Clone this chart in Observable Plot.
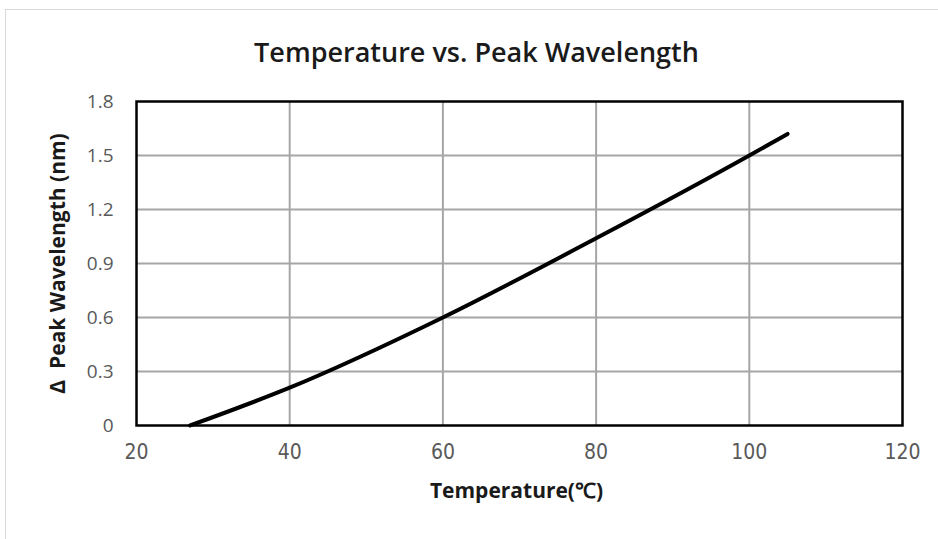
<!DOCTYPE html>
<html>
<head>
<meta charset="utf-8">
<script src="https://cdn.jsdelivr.net/npm/d3@7"></script>
<script src="https://cdn.jsdelivr.net/npm/@observablehq/plot@0.6"></script>
<style>
  html, body { margin: 0; padding: 0; background: #fff; }
  #wrap { position: relative; width: 938px; height: 539px; overflow: hidden; }
  #border { position: absolute; left: 5px; top: 9px; width: 960px; height: 560px; border: 1px solid #d9d9d9; box-sizing: border-box; }
  #chart { position: absolute; left: 0; top: 0; }
  #chart svg { overflow: visible; }
</style>
</head>
<body>
<div id="wrap"><div id="border"></div><div id="chart"></div></div>
<script>
const temperature = [27, 40, 60, 80, 100, 105];
const peakShift = [0, 0.21, 0.6, 1.04, 1.5, 1.62];
const xTicks = [20, 40, 60, 80, 100, 120];
const yTicks = [0, 0.3, 0.6, 0.9, 1.2, 1.5, 1.8];
const titleText = "Temperature vs. Peak Wavelength";
const xLabel = "Temperature(℃)";
const yLabel = "Δ  Peak Wavelength (nm)";

const data = temperature.map((t, i) => ({t, v: peakShift[i]}));

const chart = Plot.plot({
  width: 938,
  height: 539,
  marginTop: 101,
  marginBottom: 114,
  marginLeft: 136,
  marginRight: 36,
  style: {background: "transparent", overflow: "visible"},
  x: {domain: [20, 120], ticks: xTicks, label: null},
  y: {domain: [0, 1.8], ticks: yTicks, label: null},
  marks: [
    Plot.gridX(xTicks.slice(1, -1), {stroke: "#a6a6a6", strokeOpacity: 1, strokeWidth: 2}),
    Plot.gridY(yTicks.slice(1, -1), {stroke: "#a6a6a6", strokeOpacity: 1, strokeWidth: 2}),
    Plot.axisX(xTicks, {tickSize: 0, tickPadding: 19, fontSize: 21, fill: "#595959",
      fontFamily: "'DejaVu Sans Condensed', sans-serif", fontStretch: "condensed", label: null}),
    Plot.axisY(yTicks, {tickSize: 0, tickPadding: 23, fontSize: 19, fill: "#595959",
      fontFamily: "'Open Sans', sans-serif", label: null,
      tickFormat: d => d === 0 ? "0" : d.toFixed(1)}),
    Plot.frame({stroke: "#000", strokeWidth: 2.5}),
    Plot.line(data, {x: "t", y: "v", stroke: "#000", strokeWidth: 4, curve: "monotone-x"}),
    Plot.text([titleText], {frameAnchor: "top", dx: -43, dy: -59, fontSize: 27, fontWeight: 600,
      fontFamily: "'Open Sans', sans-serif", fill: "#1a1a1a"}),
    Plot.text([xLabel], {frameAnchor: "bottom", dx: -3, dy: 72, fontSize: 21, fontWeight: 700,
      fontFamily: "'Open Sans', sans-serif", fill: "#1a1a1a"}),
    Plot.text([yLabel], {frameAnchor: "left", textAnchor: "middle", dx: -78, rotate: -90, fontSize: 21, fontWeight: 700,
      fontFamily: "'Open Sans', sans-serif", fill: "#1a1a1a"})
  ]
});
document.getElementById("chart").appendChild(chart);
</script>
</body>
</html>
